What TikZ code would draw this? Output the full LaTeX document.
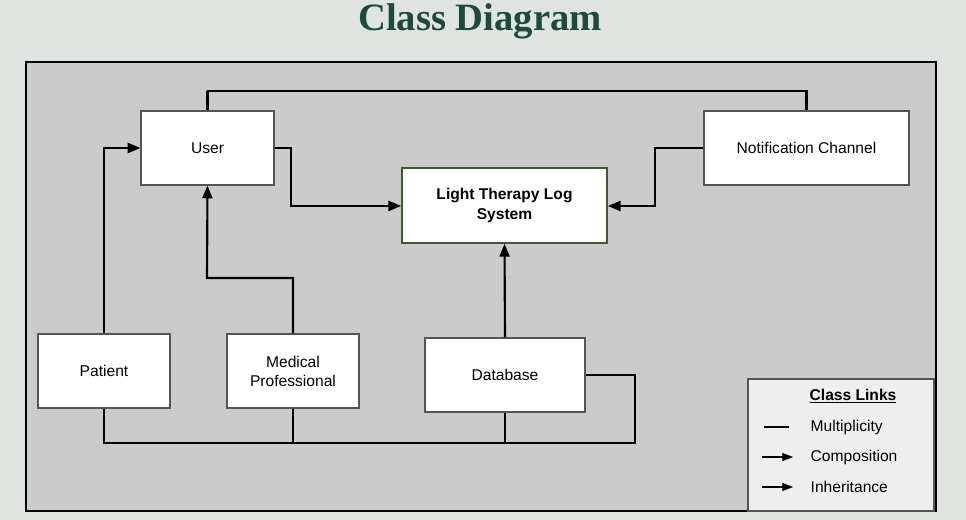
\documentclass[tikz,border=0pt]{standalone}
\usepackage{fontspec}
\setmainfont{Liberation Sans}
\newfontfamily\titlefont{Liberation Serif}
\usepackage{tikz}
\usetikzlibrary{arrows.meta, positioning, calc}
\definecolor{pagebg}{HTML}{DFE4E1}
\definecolor{framebg}{HTML}{CBCBCB}
\definecolor{legendbg}{HTML}{EEEEEE}
\definecolor{titlegreen}{HTML}{1E4A3B}
\definecolor{sysgreen}{HTML}{3B5A2E}
\definecolor{boxgray}{HTML}{555555}

\begin{document}
\begin{tikzpicture}[
  x=0.75pt, y=-0.75pt,
  cls/.style={draw=boxgray, fill=white, line width=0.9pt, inner sep=0pt,
    align=center, font=\fontsize{11.7}{14.3}\selectfont},
  link/.style={line width=1.6pt},
  >={Triangle[length=9.5pt,width=7.5pt]}
]
  \useasboundingbox (0,0) rectangle (966,520);
  \fill[pagebg] (0,0) rectangle (966,520);

  % title
  \node[font=\titlefont\bfseries\fontsize{29}{34}\selectfont, text=titlegreen] (title) at (480,21) {Class Diagram};

  % frame
  \draw[fill=framebg, line width=2.2pt] (26,62) rectangle (936,511);

  % classes
  \node[cls, minimum width=99.75pt, minimum height=55.5pt] (user) at (207.5,148) {User};
  \node[cls, minimum width=153.75pt, minimum height=55.5pt] (notif) at (806.5,148) {Notification Channel};
  \node[cls, draw=sysgreen, line width=1.3pt, minimum width=153.75pt, minimum height=56.25pt,
    font=\fontsize{11.7}{14.3}\selectfont\bfseries] (sys) at (504.5,205.5) {Light Therapy Log\\System};
  \node[cls, minimum width=99pt, minimum height=55.5pt] (patient) at (104,371) {Patient};
  \node[cls, minimum width=99pt, minimum height=55.5pt] (medic) at (293,371) {Medical\\Professional};
  \node[cls, minimum width=120pt, minimum height=55.5pt] (db) at (505,375) {Database};

  % links to the system
  \draw[link] (user.north) |- (207,91) -| (notif.north);
  \draw[link, ->] (user.east) -| (291,206) -- (sys.west |- 0,206);
  \draw[link, ->] (notif.west) -| (655,206) -- (sys.east |- 0,206);
  \draw[link, ->] (patient.north) |- (user.west);
  \draw[link, ->] (medic.north) |- (207,278) -- (user.south);
  \draw[link, ->] (db.north) -- (sys.south);

  % bottom bus
  \draw[link] (patient.south) |- (635,443) |- (db.east);
  \draw[link] (medic.south) -- (293,443);
  \draw[link] (db.south) -- (505,443);

  % legend
  \node[draw=boxgray, fill=legendbg, line width=0.9pt, minimum width=139.5pt, minimum height=99pt] (legend) at (841,445) {};
  \node[font=\fontsize{11.7}{14.3}\selectfont\bfseries] (ltitle) at (853,396) {\underline{Class Links}};
  \node[anchor=west, font=\fontsize{11.7}{14.3}\selectfont] (lmult) at (806,427) {Multiplicity};
  \node[anchor=west, font=\fontsize{11.7}{14.3}\selectfont] (lcomp) at (806,457) {Composition};
  \node[anchor=west, font=\fontsize{11.7}{14.3}\selectfont] (linh) at (806,487) {Inheritance};
  \draw[line width=0.8pt] (764,427) -- (789,427);
  \draw[line width=0.8pt, -{Triangle[length=8pt,width=6pt]}] (762,457) -- (793,457);
  \draw[line width=0.8pt, -{Triangle[length=8pt,width=6pt]}] (762,487) -- (793,487);
\end{tikzpicture}
\end{document}
